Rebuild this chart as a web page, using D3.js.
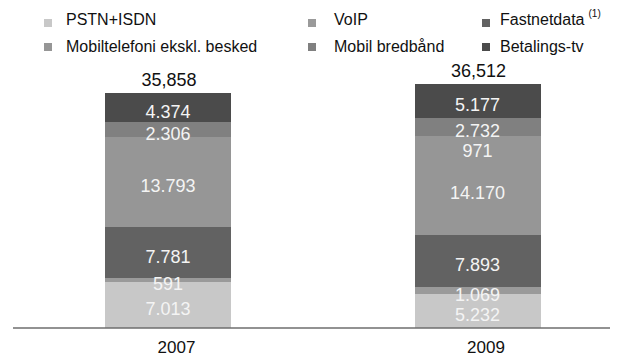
<!DOCTYPE html>
<html>
<head>
<meta charset="utf-8">
<script src="https://cdn.jsdelivr.net/npm/d3@7/dist/d3.min.js"></script>
<style>
  html, body { margin: 0; padding: 0; background: #fff; }
  svg { display: block; font-family: "Liberation Sans", Arial, sans-serif; }
</style>
</head>
<body>
<svg id="chart" width="622" height="356"></svg>
<script>
// Omsætning fordelt på forretningsområder (mio. kr.)
const categories = ['2007', '2009'];

const seriesNames = [
  'PSTN+ISDN', 'VoIP', 'Fastnetdata',
  'Mobiltelefoni ekskl. besked', 'Mobil bredbånd', 'Betalings-tv'
];
const seriesNotes = ['', '', '(1)', '', '', ''];

// Values per series, one entry per year
const pstnIsdn       = [7013, 5232];
const voip           = [591, 1069];
const fastnetdata    = [7781, 7893];
const mobiltelefoni  = [13793, 14170];
const mobilOevrig    = [0, 971];
const mobilBredbaand = [2306, 2732];
const betalingsTv    = [4374, 5177];

const totals = [35858, 36512];

// Stack order, bottom to top
const stackKeys = ['pstn', 'voip', 'fastnet', 'mobil', 'mobilOevrig', 'bredband', 'tv'];
const stackValues = [pstnIsdn, voip, fastnetdata, mobiltelefoni, mobilOevrig, mobilBredbaand, betalingsTv];

const colors = {
  pstn: '#c8c8c8',
  voip: '#9a9a9a',
  fastnet: '#626262',
  mobil: '#969696',
  mobilOevrig: '#969696',
  bredband: '#808080',
  tv: '#4b4b4b'
};
const legendKeys = ['pstn', 'voip', 'fastnet', 'mobil', 'bredband', 'tv'];

const rows = categories.map((year, i) => {
  const row = { year };
  stackKeys.forEach((k, j) => { row[k] = stackValues[j][i]; });
  return row;
});

const svg = d3.select('#chart');

const baseY = 328;
const y = d3.scaleLinear().domain([0, 40000]).range([baseY, 66]);
const x = d3.scalePoint().domain(categories).range([168, 477.5]);
const barWidth = 126;

const daFormat = d3.formatLocale({ decimal: ',', thousands: '.', grouping: [3], currency: ['', ''] }).format(',');
const totalFormat = d3.format(',');

const stacked = d3.stack().keys(stackKeys)(rows);

// Bar segments
const layers = svg.append('g').selectAll('g')
  .data(stacked)
  .join('g')
  .attr('fill', s => colors[s.key]);

layers.selectAll('rect')
  .data(s => s.map(d => ({ d, key: s.key })))
  .join('rect')
  .attr('shape-rendering', 'crispEdges')
  .attr('x', p => Math.round(x(p.d.data.year) - barWidth / 2))
  .attr('width', barWidth)
  .attr('y', p => Math.round(y(p.d[1])))
  .attr('height', p => Math.round(y(p.d[0])) - Math.round(y(p.d[1])));

// Segment value labels, pushed apart where small segments sit close together
const minGap = 20;
const labelData = [];
categories.forEach(year => {
  const items = [];
  stacked.forEach(s => s.forEach(d => {
    const v = d[1] - d[0];
    if (d.data.year === year && v > 0) items.push({ year, v, pos: (y(d[0]) + y(d[1])) / 2 + 4 });
  }));
  items.sort((a, b) => a.pos - b.pos);
  for (let i = 1; i < items.length; i++) {
    if (items[i].pos - items[i - 1].pos < minGap) items[i].pos = items[i - 1].pos + minGap;
  }
  labelData.push(...items);
});

svg.append('g')
  .selectAll('text')
  .data(labelData)
  .join('text')
  .attr('x', d => x(d.year))
  .attr('y', d => d.pos)
  .attr('dy', '0.35em')
  .attr('text-anchor', 'middle')
  .attr('font-size', 18)
  .attr('fill', '#f4f4f4')
  .text(d => daFormat(d.v));

// Totals above bars
svg.append('g')
  .selectAll('text')
  .data(categories.map((year, i) => ({ year, total: totals[i], top: y(d3.sum(stackValues, a => a[i])) })))
  .join('text')
  .attr('x', d => x(d.year) + 1)
  .attr('y', d => d.top - 7)
  .attr('text-anchor', 'middle')
  .attr('font-size', 18)
  .attr('fill', '#111')
  .text(d => totalFormat(d.total));

// Baseline
svg.append('line')
  .attr('x1', 13).attr('x2', 610)
  .attr('y1', baseY).attr('y2', baseY)
  .attr('stroke', '#6e6e6e')
  .attr('stroke-width', 1.5);

// Category axis labels
const xAxis = d3.axisBottom(x).tickSize(0).tickPadding(0);
const axisG = svg.append('g')
  .attr('transform', `translate(8,${baseY + 13})`)
  .call(xAxis);
axisG.select('.domain').remove();
axisG.selectAll('text')
  .attr('font-size', 17)
  .attr('font-family', '"Liberation Sans", Arial, sans-serif')
  .attr('fill', '#111');

// Legend: two rows, three columns
const colSwatchX = [44, 308, 482];
const colTextX = [66, 334, 500];
const rowSwatchY = [19, 43];
const rowTextY = [25, 52];

const legend = svg.append('g')
  .selectAll('g')
  .data(legendKeys.map((k, i) => ({ k, name: seriesNames[i], note: seriesNotes[i], col: i % 3, row: Math.floor(i / 3) })))
  .join('g');

legend.append('rect')
  .attr('x', d => colSwatchX[d.col])
  .attr('y', d => rowSwatchY[d.row])
  .attr('width', 8)
  .attr('height', 8)
  .attr('fill', d => colors[d.k]);

const legendText = legend.append('text')
  .attr('x', d => colTextX[d.col])
  .attr('y', d => rowTextY[d.row])
  .attr('font-size', 16)
  .attr('fill', '#111');

legendText.append('tspan').text(d => d.name);
legendText.filter(d => d.note)
  .append('tspan')
  .attr('dx', 4)
  .attr('dy', -8)
  .attr('font-size', 10)
  .text(d => d.note);
</script>
</body>
</html>
